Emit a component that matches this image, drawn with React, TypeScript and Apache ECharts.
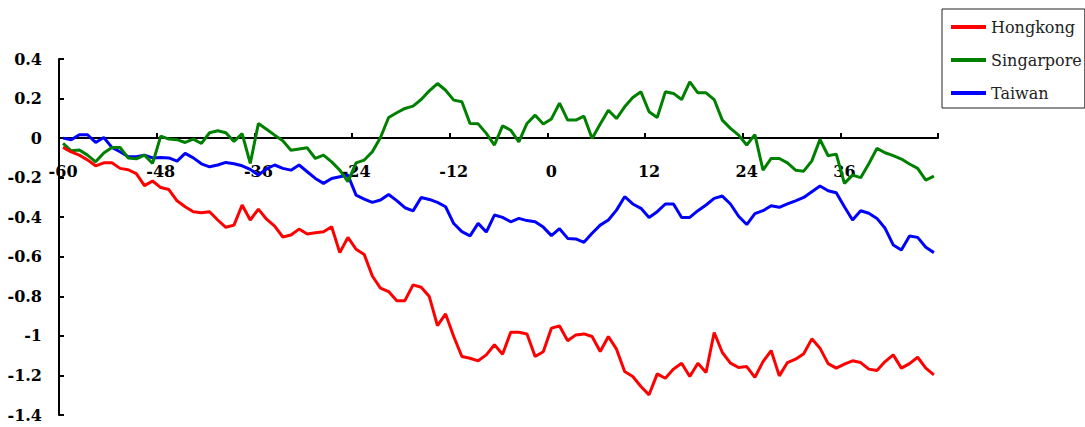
import React, { useEffect, useRef } from "react";
import * as echarts from "echarts";

const categories: string[] = [
  "-60","-59","-58","-57","-56","-55","-54","-53","-52","-51","-50","-49",
  "-48","-47","-46","-45","-44","-43","-42","-41","-40","-39","-38","-37",
  "-36","-35","-34","-33","-32","-31","-30","-29","-28","-27","-26","-25",
  "-24","-23","-22","-21","-20","-19","-18","-17","-16","-15","-14","-13",
  "-12","-11","-10","-9","-8","-7","-6","-5","-4","-3","-2","-1",
  "0","1","2","3","4","5","6","7","8","9","10","11",
  "12","13","14","15","16","17","18","19","20","21","22","23",
  "24","25","26","27","28","29","30","31","32","33","34","35",
  "36","37","38","39","40","41","42","43","44","45","46","47",
];

const hongkong: number[] = [
  -0.047, -0.07, -0.086, -0.11, -0.14, -0.125, -0.125, -0.153, -0.16, -0.18, -0.24, -0.217,
  -0.25, -0.26, -0.317, -0.347, -0.372, -0.377, -0.372, -0.414, -0.451, -0.44, -0.338, -0.414,
  -0.359, -0.41, -0.445, -0.5, -0.49, -0.46, -0.485, -0.478, -0.473, -0.448, -0.579, -0.502,
  -0.562, -0.588, -0.697, -0.759, -0.776, -0.822, -0.822, -0.742, -0.754, -0.801, -0.948, -0.889,
  -1.003, -1.104, -1.113, -1.126, -1.096, -1.045, -1.093, -0.982, -0.982, -0.99, -1.104, -1.08,
  -0.961, -0.95, -1.025, -0.995, -0.99, -1.003, -1.079, -1.003, -1.067, -1.18, -1.205, -1.256,
  -1.298, -1.192, -1.214, -1.168, -1.138, -1.205, -1.138, -1.185, -0.983, -1.084, -1.138, -1.16,
  -1.155, -1.21, -1.13, -1.074, -1.202, -1.135, -1.118, -1.09, -1.015, -1.062, -1.14, -1.163,
  -1.143, -1.126, -1.135, -1.168, -1.175, -1.13, -1.096, -1.163, -1.14, -1.108, -1.163, -1.197,
];

const singarpore: number[] = [
  -0.027, -0.064, -0.06, -0.086, -0.12, -0.075, -0.047, -0.047, -0.1, -0.105, -0.086, -0.128,
  0.01, -0.005, -0.008, -0.022, -0.005, -0.027, 0.027, 0.037, 0.027, -0.017, 0.023, -0.128,
  0.074, 0.045, 0.015, -0.013, -0.061, -0.055, -0.049, -0.103, -0.086, -0.12, -0.162, -0.22,
  -0.125, -0.111, -0.069, 0.003, 0.104, 0.128, 0.15, 0.162, 0.195, 0.239, 0.276, 0.242,
  0.192, 0.184, 0.074, 0.072, 0.024, -0.035, 0.062, 0.04, -0.019, 0.074, 0.116, 0.071,
  0.097, 0.177, 0.091, 0.091, 0.111, -0.002, 0.071, 0.141, 0.099, 0.158, 0.205, 0.234,
  0.133, 0.104, 0.234, 0.226, 0.195, 0.284, 0.229, 0.229, 0.195, 0.091, 0.049, 0.015,
  -0.035, 0.018, -0.162, -0.103, -0.103, -0.125, -0.162, -0.167, -0.115, -0.007, -0.089, -0.081,
  -0.229, -0.187, -0.2, -0.13, -0.052, -0.074, -0.089, -0.106, -0.131, -0.153, -0.212, -0.192,
];

const taiwan: number[] = [
  0, -0.008, 0.017, 0.017, -0.022, 0.003, -0.047, -0.069, -0.094, -0.094, -0.086, -0.1,
  -0.098, -0.1, -0.116, -0.077, -0.1, -0.13, -0.145, -0.136, -0.123, -0.13, -0.14, -0.158,
  -0.187, -0.155, -0.136, -0.153, -0.162, -0.136, -0.17, -0.204, -0.229, -0.204, -0.195, -0.187,
  -0.288, -0.308, -0.325, -0.313, -0.285, -0.316, -0.352, -0.368, -0.3, -0.31, -0.325, -0.347,
  -0.432, -0.473, -0.494, -0.431, -0.475, -0.389, -0.401, -0.423, -0.406, -0.417, -0.423, -0.45,
  -0.493, -0.458, -0.507, -0.51, -0.527, -0.481, -0.44, -0.414, -0.364, -0.296, -0.333, -0.355,
  -0.401, -0.372, -0.333, -0.333, -0.401, -0.401, -0.367, -0.338, -0.305, -0.293, -0.333, -0.395,
  -0.437, -0.382, -0.367, -0.342, -0.35, -0.333, -0.317, -0.3, -0.271, -0.242, -0.266, -0.276,
  -0.347, -0.414, -0.367, -0.38, -0.406, -0.456, -0.54, -0.566, -0.495, -0.502, -0.552, -0.579,
];

const seriesNames = ["Hongkong", "Singarpore", "Taiwan"];
const seriesColors = ["#ff0000", "#008000", "#0000ff"];

const FONT = "DejaVu Serif";

// y-axis range; the x axis crosses at value 0
const Y_MIN = -1.4;
const Y_MAX = 0.4;
const GRID_TOP = 59;
const GRID_BOTTOM = 12;
const CHART_H = 427;

export default function App() {
  const ref = useRef<HTMLDivElement>(null);

  useEffect(() => {
    if (!ref.current) return;
    const chart = echarts.init(ref.current, null, { renderer: "svg" });
    const values = [hongkong, singarpore, taiwan];
    const gridH = CHART_H - GRID_TOP - GRID_BOTTOM;
    const zeroOffset = -Math.round((gridH * (0 - Y_MIN)) / (Y_MAX - Y_MIN));
    chart.setOption({
      animation: false,
      backgroundColor: "#ffffff",
      grid: {
        left: 59,
        right: 147,
        top: GRID_TOP,
        bottom: GRID_BOTTOM,
        containLabel: false,
        outerBoundsMode: "none",
      },
      legend: {
        orient: "vertical",
        left: 942,
        top: 9,
        padding: [7, 3, 4, 9],
        itemGap: 11,
        itemWidth: 35,
        itemHeight: 4,
        icon: "rect",
        borderColor: "#222",
        borderWidth: 1,
        borderRadius: 0,
        textStyle: {
          fontFamily: FONT,
          fontSize: 16,
          lineHeight: 22,
          color: "#222",
        },
        data: seriesNames,
      },
      xAxis: {
        type: "category",
        data: categories,
        boundaryGap: true,
        offset: zeroOffset,
        axisLine: { onZero: false, lineStyle: { color: "#000", width: 2 } },
        axisTick: { show: true, inside: true, interval: 11, length: 5, lineStyle: { color: "#000", width: 2 } },
        axisLabel: {
          interval: 11,
          margin: 25,
          fontFamily: FONT,
          fontSize: 16,
          fontWeight: "bold",
          color: "#000",
        },
        splitLine: { show: false },
      },
      yAxis: {
        type: "value",
        min: Y_MIN,
        max: Y_MAX,
        interval: 0.2,
        axisLine: { show: true, onZero: false, lineStyle: { color: "#000", width: 2 } },
        axisTick: { show: true, inside: true, length: 5, lineStyle: { color: "#000", width: 2 } },
        axisLabel: {
          margin: 17,
          fontFamily: FONT,
          fontSize: 16,
          fontWeight: "bold",
          color: "#000",
        },
        splitLine: { show: false },
      },
      series: seriesNames.map((name, k) => ({
        name,
        type: "line",
        data: values[k],
        showSymbol: false,
        symbol: "none",
        color: seriesColors[k],
        lineStyle: { color: seriesColors[k], width: 3 },
        z: 3 - k,
      })),
    });
    return () => {
      chart.dispose();
    };
  }, []);

  return (
    <div
      ref={ref}
      style={{ position: "fixed", left: 0, top: 0, width: 1085, height: 427 }}
    />
  );
}
